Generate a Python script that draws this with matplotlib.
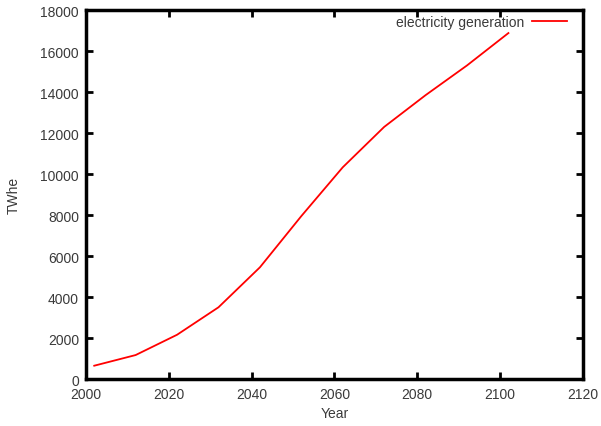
import matplotlib
matplotlib.use("Agg")
import matplotlib.pyplot as plt

years = [2002, 2012, 2022, 2032, 2042, 2052, 2062, 2072, 2082, 2092, 2102]
twhe = [650, 1170, 2160, 3500, 5450, 7950, 10330, 12300, 13850, 15300, 16880]

plt.rcParams['font.family'] = ['Liberation Sans', 'DejaVu Sans']
txt = '#3a3a3a'

fig = plt.figure(figsize=(6.01, 4.27), dpi=100)
ax = fig.add_axes([0.143, 0.110, 0.827, 0.864])
ax.plot(years, twhe, color='red', lw=1.3, label='electricity generation')

ax.set_xlim(2000, 2120)
ax.set_ylim(0, 18000)
ax.set_xticks(range(2000, 2121, 20))
ax.set_yticks(range(0, 18001, 2000))
ax.tick_params(direction='in', top=True, right=True, length=5, width=2,
               labelsize=10, labelcolor=txt)
ax.tick_params(axis='x', pad=6)
ax.tick_params(axis='y', pad=5)
for s in ax.spines.values():
    s.set_linewidth(2.5)

ax.set_xlabel('Year', color=txt, fontsize=10, labelpad=3)
ax.set_ylabel('TWhe', color=txt, fontsize=10, labelpad=14)

leg = ax.legend(loc='upper right', bbox_to_anchor=(0.982, 1.005), frameon=False,
                fontsize=10, markerfirst=False, handlelength=2.5,
                borderaxespad=0.1, handletextpad=0.6)
for t in leg.get_texts():
    t.set_color(txt)

fig.savefig('out.png', dpi=100)
